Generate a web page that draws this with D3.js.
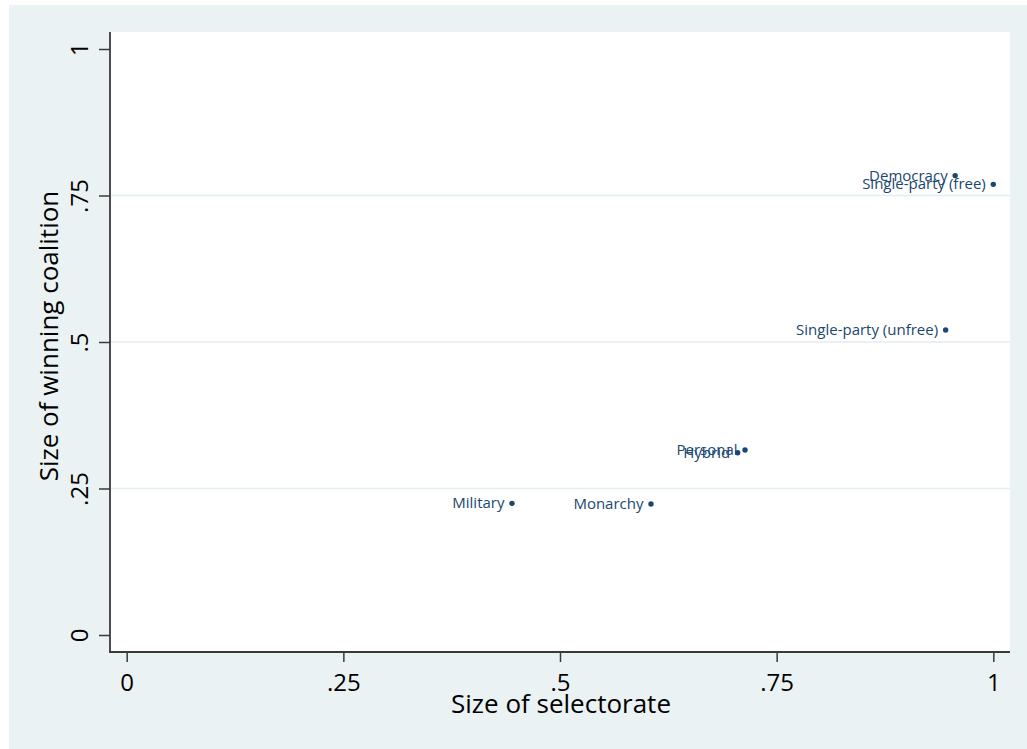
<!DOCTYPE html>
<html>
<head>
<meta charset="utf-8">
<script src="https://cdn.jsdelivr.net/npm/d3@7"></script>
<style>
  html, body { margin: 0; padding: 0; background: #ffffff; }
  svg { display: block; }
  text { font-family: "Open Sans", sans-serif; }
</style>
</head>
<body>
<svg id="chart" width="1027" height="749"></svg>
<script>
// ---- data ----
const regimes = ["Democracy", "Single-party (free)", "Single-party (unfree)", "Hybrid", "Personal", "Military", "Monarchy"];
const selectorate = [0.956, 1.0, 0.945, 0.705, 0.7135, 0.4446, 0.605];
const coalition = [0.784, 0.769, 0.5205, 0.311, 0.3157, 0.2247, 0.2235];
const xTicks = [0, 0.25, 0.5, 0.75, 1];
const yTicks = [0, 0.25, 0.5, 0.75, 1];
const xTickLabels = ["0", ".25", ".5", ".75", "1"];
const yTickLabels = ["0", ".25", ".5", ".75", "1"];
const xTitle = "Size of selectorate";
const yTitle = "Size of winning coalition";

// ---- layout ----
const W = 1027, H = 749;
const plot = { left: 110, right: 1010, top: 32, bottom: 652 };
const navy = "#1a476f";
const bg = "#eaf2f3";
const axisColor = "#3a3a3a";

const svg = d3.select("#chart");

svg.append("rect").attr("x", 9).attr("y", 5).attr("width", W - 9).attr("height", H - 5).attr("fill", bg);
svg.append("rect").attr("x", plot.left).attr("y", plot.top)
  .attr("width", plot.right - plot.left).attr("height", plot.bottom - plot.top).attr("fill", "#ffffff");

const x = d3.scaleLinear().domain([0, 1]).range([126.7, 993.3]);
const y = d3.scaleLinear().domain([0, 1]).range([635, 49]);

// gridlines (interior ticks only)
svg.append("g").selectAll("line")
  .data(yTicks.filter(t => t > 0 && t < 1))
  .join("line")
  .attr("x1", plot.left).attr("x2", plot.right)
  .attr("y1", d => y(d)).attr("y2", d => y(d))
  .attr("stroke", "#e4edef").attr("stroke-width", 1.6);

// y axis
const gy = svg.append("g").attr("transform", `translate(${plot.left},0)`)
  .call(d3.axisLeft(y).tickValues(yTicks).tickSize(11).tickFormat((d, i) => yTickLabels[i]));
gy.select(".domain").remove();
gy.selectAll(".tick line").attr("stroke", axisColor).attr("stroke-width", 1.5);
gy.selectAll(".tick text")
  .attr("transform", "rotate(-90)")
  .attr("x", 0).attr("y", -22).attr("dy", 0)
  .attr("text-anchor", "middle")
  .attr("fill", "#000").attr("font-size", 24);
gy.append("line").attr("x1", 0).attr("x2", 0).attr("y1", plot.top).attr("y2", plot.bottom + 0.75)
  .attr("stroke", axisColor).attr("stroke-width", 1.8);

// x axis
const gx = svg.append("g").attr("transform", `translate(0,${plot.bottom})`)
  .call(d3.axisBottom(x).tickValues(xTicks).tickSize(10).tickFormat((d, i) => xTickLabels[i]));
gx.select(".domain").remove();
gx.selectAll(".tick line").attr("stroke", axisColor).attr("stroke-width", 1.5);
gx.selectAll(".tick text")
  .attr("y", 39).attr("dy", 0)
  .attr("fill", "#000").attr("font-size", 24);
gx.append("line").attr("x1", plot.left - 0.75).attr("x2", plot.right).attr("y1", 0).attr("y2", 0)
  .attr("stroke", axisColor).attr("stroke-width", 1.8);

// titles
svg.append("text").attr("x", (plot.left + plot.right) / 2 + 1).attr("y", 713)
  .attr("text-anchor", "middle").attr("font-size", 26).attr("fill", "#000").text(xTitle);
svg.append("text").attr("transform", `translate(58,${336}) rotate(-90)`)
  .attr("text-anchor", "middle").attr("font-size", 26).attr("fill", "#000").text(yTitle);

// points
const pts = regimes.map((r, i) => ({ name: r, sx: selectorate[i], wc: coalition[i] }));
const gp = svg.append("g");
gp.selectAll("circle").data(pts).join("circle")
  .attr("cx", d => x(d.sx)).attr("cy", d => y(d.wc))
  .attr("r", 2.7).attr("fill", navy);
gp.selectAll("text").data(pts).join("text")
  .attr("x", d => x(d.sx) - 7.5).attr("y", d => y(d.wc) + 5)
  .attr("text-anchor", "end").attr("font-size", 15).attr("fill", navy)
  .text(d => d.name);
</script>
</body>
</html>
